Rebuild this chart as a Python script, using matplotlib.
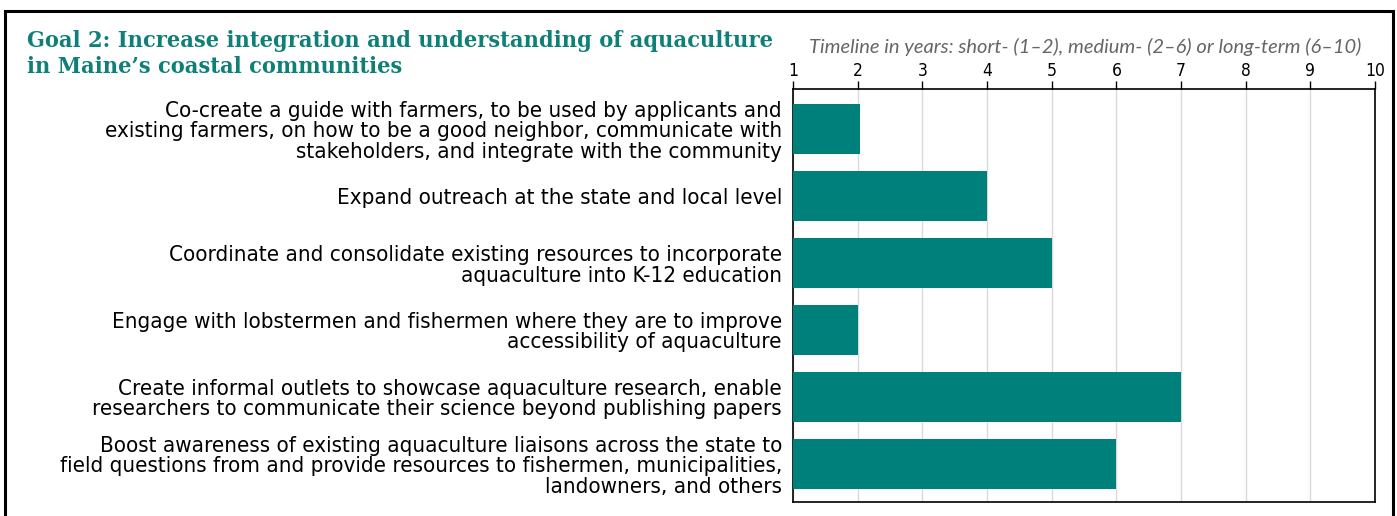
import numpy as np
import matplotlib.pyplot as plt
from matplotlib.patches import Rectangle

actions = [
    "Co-create a guide with farmers, to be used by applicants and\nexisting farmers, on how to be a good neighbor, communicate with\nstakeholders, and integrate with the community",
    "Expand outreach at the state and local level",
    "Coordinate and consolidate existing resources to incorporate\naquaculture into K-12 education",
    "Engage with lobstermen and fishermen where they are to improve\naccessibility of aquaculture",
    "Create informal outlets to showcase aquaculture research, enable\nresearchers to communicate their science beyond publishing papers",
    "Boost awareness of existing aquaculture liaisons across the state to\nfield questions from and provide resources to fishermen, municipalities,\nlandowners, and others",
]
years = [2.03, 4, 5, 2, 7, 6]
xticks = [1, 2, 3, 4, 5, 6, 7, 8, 9, 10]

teal = "#00807a"

fig = plt.figure(figsize=(13.97, 5.16), dpi=100)
ax = fig.add_axes([0.5677, 0.0271, 0.9843 - 0.5677, 0.8275 - 0.0271])

y = np.arange(len(actions))
ax.barh(y, [v - 1 for v in years], left=1, height=0.75, color=teal, zorder=3)
ax.set_xlim(1, 10)
ax.set_ylim(5.57, -0.6)
ax.set_xticks(xticks)
ax.xaxis.tick_top()
ax.tick_params(axis="x", direction="out", length=6, width=1, pad=0.5, labelsize=12.5)
for t in ax.get_xticklabels():
    t.set_family("DejaVu Sans")
    t.set_stretch("condensed")
ax.grid(axis="x", color="#d9d9d9", lw=1, zorder=0)
ax.set_yticks(y)
ax.set_yticklabels(actions, fontsize=16, family="DejaVu Sans", stretch="condensed", linespacing=1.03)
ax.tick_params(axis="y", length=0, pad=8)
for s in ax.spines.values():
    s.set_linewidth(1.2)

fig.text(1085 / 1397, 1 - 47 / 516, "Timeline in years: short- (1\u20132), medium- (2\u20136) or long-term (6\u201310)",
         ha="center", va="center", fontsize=14.5, style="italic", color="#666666", family="Lato")
fig.text(27 / 1397, 1 - 54 / 516, "Goal 2: Increase integration and understanding of aquaculture\nin Maine\u2019s coastal communities",
         ha="left", va="center", fontsize=16.8, fontweight="bold", color="#0e8078", family="DejaVu Serif",
         stretch="condensed", linespacing=1.27)

fig.patches.append(Rectangle((5 / 1397, -0.1), (1393 - 5) / 1397, 1.1 - 11 / 516, transform=fig.transFigure,
                             fill=False, edgecolor="black", lw=2.2))

fig.savefig("out.png", dpi=100)
